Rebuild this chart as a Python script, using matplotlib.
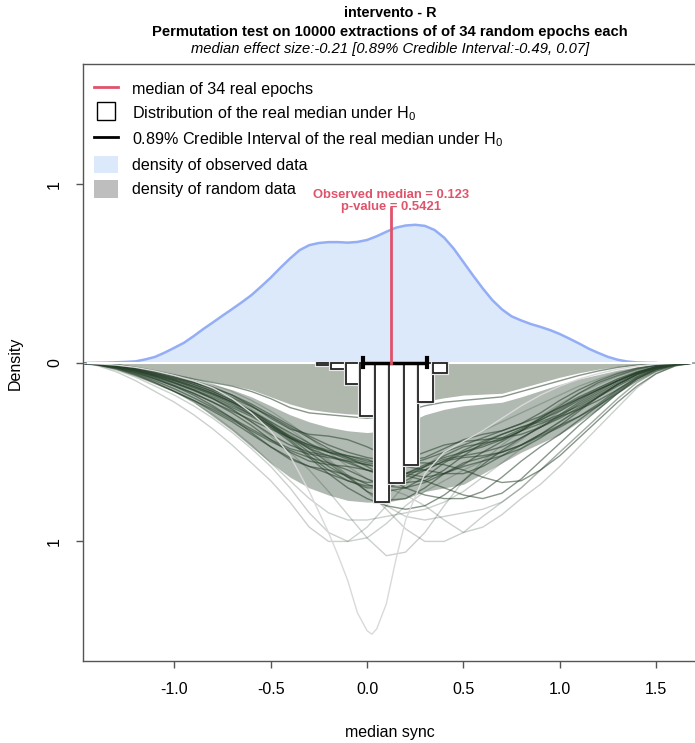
import numpy as np
import matplotlib
matplotlib.use("Agg")
import matplotlib.pyplot as plt
from matplotlib.lines import Line2D
from matplotlib.patches import Patch
import matplotlib.patheffects as pe

plt.rcParams['font.family'] = ['Liberation Sans', 'DejaVu Sans']
plt.rcParams['mathtext.fontset'] = 'custom'
plt.rcParams['mathtext.rm'] = 'Liberation Sans'
plt.rcParams['mathtext.it'] = 'Liberation Sans:italic'

# observed density (upper half)
obs_x = [-1.45, -1.40, -1.35, -1.30, -1.25, -1.20, -1.15, -1.10, -1.05, -1.00,
         -0.95, -0.90, -0.85, -0.80, -0.75, -0.70, -0.65, -0.60, -0.55, -0.50,
         -0.45, -0.40, -0.35, -0.30, -0.25, -0.20, -0.15, -0.10, -0.05, 0.00,
         0.05, 0.10, 0.15, 0.20, 0.25, 0.30, 0.35, 0.40, 0.45, 0.50,
         0.55, 0.60, 0.65, 0.70, 0.75, 0.80, 0.85, 0.90, 0.95, 1.00,
         1.05, 1.10, 1.15, 1.20, 1.25, 1.30, 1.35, 1.40, 1.45, 1.50]
obs_y = [0.0, 0.001, 0.002, 0.004, 0.006, 0.009, 0.020, 0.034, 0.058, 0.085,
         0.113, 0.150, 0.190, 0.227, 0.265, 0.302, 0.340, 0.380, 0.428, 0.478,
         0.533, 0.585, 0.632, 0.660, 0.672, 0.677, 0.677, 0.674, 0.678, 0.689,
         0.710, 0.735, 0.758, 0.770, 0.774, 0.768, 0.745, 0.702, 0.640, 0.565,
         0.490, 0.418, 0.352, 0.300, 0.261, 0.238, 0.218, 0.202, 0.184, 0.162,
         0.136, 0.109, 0.080, 0.056, 0.034, 0.018, 0.008, 0.003, 0.001, 0.0]

# random-data densities (drawn downward)
rnd_x = [-1.5, -1.4, -1.3, -1.2, -1.1, -1.0, -0.9, -0.8, -0.7, -0.6, -0.5,
         -0.4, -0.3, -0.2, -0.1, 0.0, 0.1, 0.2, 0.3, 0.4, 0.5, 0.6,
         0.7, 0.8, 0.9, 1.0, 1.1, 1.2, 1.3, 1.4, 1.5, 1.6, 1.7]
rnd_top = [0, 0.0, 0.008, 0.025, 0.045, 0.065, 0.085, 0.105, 0.125, 0.15, 0.19,
           0.23, 0.26, 0.275, 0.285, 0.29, 0.28, 0.25, 0.215, 0.195, 0.18, 0.175,
           0.17, 0.14, 0.11, 0.08, 0.055, 0.035, 0.02, 0.01, 0.004, 0.001, 0]
core_upper = [0, 0.003, 0.01, 0.028, 0.05, 0.072, 0.095, 0.12, 0.15, 0.19, 0.24,
              0.29, 0.33, 0.36, 0.38, 0.39, 0.38, 0.34, 0.29, 0.26, 0.24, 0.23,
              0.22, 0.19, 0.155, 0.12, 0.09, 0.065, 0.04, 0.022, 0.009, 0.002, 0]
core_lower = [0, 0.012, 0.035, 0.07, 0.11, 0.16, 0.22, 0.3, 0.38, 0.47, 0.56,
              0.64, 0.7, 0.74, 0.77, 0.78, 0.78, 0.76, 0.72, 0.7, 0.68, 0.62,
              0.56, 0.5, 0.45, 0.4, 0.33, 0.26, 0.17, 0.09, 0.035, 0.008, 0]
random_curves = [
    [0, 0.002, 0.01, 0.028, 0.048, 0.068, 0.09, 0.11, 0.13, 0.16, 0.2, 0.25, 0.28, 0.29, 0.3, 0.31, 0.3, 0.27, 0.24, 0.22, 0.21, 0.2, 0.19, 0.16, 0.13, 0.1, 0.07, 0.045, 0.025, 0.012, 0.005, 0.001, 0],
    [0, 0.004, 0.015, 0.035, 0.06, 0.085, 0.11, 0.14, 0.18, 0.24, 0.31, 0.37, 0.4, 0.41, 0.43, 0.47, 0.52, 0.55, 0.53, 0.48, 0.43, 0.4, 0.38, 0.34, 0.28, 0.21, 0.15, 0.1, 0.06, 0.03, 0.012, 0.003, 0],
    [0, 0.006, 0.02, 0.045, 0.075, 0.11, 0.15, 0.2, 0.26, 0.33, 0.4, 0.46, 0.5, 0.52, 0.55, 0.6, 0.63, 0.62, 0.58, 0.52, 0.47, 0.45, 0.43, 0.38, 0.31, 0.24, 0.17, 0.11, 0.07, 0.035, 0.014, 0.004, 0],
    [0, 0.008, 0.025, 0.055, 0.09, 0.13, 0.18, 0.24, 0.31, 0.39, 0.47, 0.54, 0.58, 0.6, 0.63, 0.68, 0.72, 0.7, 0.64, 0.56, 0.5, 0.46, 0.42, 0.37, 0.31, 0.25, 0.19, 0.14, 0.09, 0.05, 0.02, 0.005, 0],
    [0, 0.012, 0.04, 0.08, 0.13, 0.18, 0.24, 0.31, 0.39, 0.48, 0.58, 0.7, 0.84, 0.95, 1.0, 0.98, 0.9, 0.8, 0.72, 0.66, 0.6, 0.55, 0.5, 0.43, 0.35, 0.27, 0.2, 0.14, 0.09, 0.05, 0.02, 0.005, 0],
    [0, 0.005, 0.018, 0.04, 0.07, 0.1, 0.14, 0.18, 0.23, 0.29, 0.36, 0.44, 0.53, 0.62, 0.7, 0.76, 0.8, 0.82, 0.8, 0.74, 0.66, 0.57, 0.49, 0.42, 0.36, 0.3, 0.23, 0.17, 0.11, 0.06, 0.025, 0.006, 0],
    [0, 0.003, 0.012, 0.03, 0.055, 0.08, 0.11, 0.15, 0.2, 0.26, 0.33, 0.4, 0.47, 0.55, 0.63, 0.72, 0.82, 0.93, 1.0, 1.0, 0.95, 0.86, 0.78, 0.7, 0.6, 0.5, 0.4, 0.3, 0.2, 0.11, 0.05, 0.015, 0],
    [0, 0.01, 0.03, 0.065, 0.11, 0.16, 0.21, 0.27, 0.33, 0.4, 0.47, 0.53, 0.58, 0.62, 0.66, 0.7, 0.7, 0.66, 0.6, 0.55, 0.53, 0.52, 0.5, 0.46, 0.4, 0.33, 0.26, 0.19, 0.12, 0.065, 0.028, 0.007, 0],
    [0, 0.004, 0.015, 0.035, 0.06, 0.09, 0.12, 0.16, 0.21, 0.27, 0.34, 0.41, 0.48, 0.56, 0.64, 0.72, 0.77, 0.76, 0.7, 0.62, 0.56, 0.53, 0.5, 0.46, 0.41, 0.36, 0.3, 0.23, 0.15, 0.08, 0.033, 0.008, 0],
    [0, 0.015, 0.05, 0.1, 0.16, 0.22, 0.29, 0.37, 0.46, 0.56, 0.66, 0.78, 0.92, 1.0, 1.0, 0.92, 0.8, 0.68, 0.58, 0.5, 0.44, 0.38, 0.33, 0.28, 0.23, 0.18, 0.13, 0.09, 0.055, 0.03, 0.012, 0.003, 0],
    [0, 0.007, 0.022, 0.048, 0.08, 0.115, 0.155, 0.2, 0.25, 0.3, 0.36, 0.42, 0.47, 0.5, 0.53, 0.58, 0.64, 0.7, 0.74, 0.76, 0.76, 0.72, 0.64, 0.55, 0.47, 0.4, 0.32, 0.24, 0.16, 0.09, 0.04, 0.01, 0],
    [0, 0.005, 0.017, 0.038, 0.065, 0.095, 0.13, 0.17, 0.22, 0.28, 0.35, 0.42, 0.48, 0.52, 0.56, 0.6, 0.62, 0.63, 0.66, 0.7, 0.74, 0.76, 0.73, 0.65, 0.55, 0.45, 0.35, 0.26, 0.17, 0.09, 0.037, 0.009, 0],
    [0, 0.006, 0.02, 0.045, 0.075, 0.11, 0.15, 0.2, 0.26, 0.33, 0.41, 0.5, 0.6, 0.72, 0.85, 0.98, 1.08, 1.06, 0.95, 0.8, 0.66, 0.55, 0.46, 0.38, 0.3, 0.23, 0.17, 0.12, 0.075, 0.04, 0.016, 0.004, 0],
    [0, 0.003, 0.01, 0.025, 0.045, 0.07, 0.1, 0.135, 0.18, 0.23, 0.29, 0.35, 0.41, 0.46, 0.5, 0.53, 0.55, 0.56, 0.56, 0.57, 0.6, 0.64, 0.67, 0.66, 0.6, 0.52, 0.42, 0.32, 0.22, 0.13, 0.06, 0.016, 0],
    [0, 0.003, 0.01, 0.024, 0.043, 0.065, 0.09, 0.12, 0.16, 0.21, 0.27, 0.34, 0.42, 0.5, 0.58, 0.65, 0.7, 0.74, 0.8, 0.88, 0.95, 0.92, 0.85, 0.76, 0.68, 0.58, 0.47, 0.36, 0.25, 0.14, 0.06, 0.016, 0],
    [0, 0.009, 0.028, 0.06, 0.1, 0.145, 0.195, 0.25, 0.31, 0.37, 0.43, 0.48, 0.51, 0.53, 0.55, 0.57, 0.6, 0.62, 0.6, 0.55, 0.49, 0.44, 0.4, 0.36, 0.32, 0.27, 0.21, 0.15, 0.1, 0.055, 0.023, 0.006, 0],
    [0, 0.006, 0.02, 0.042, 0.07, 0.1, 0.135, 0.175, 0.22, 0.27, 0.33, 0.39, 0.45, 0.5, 0.54, 0.57, 0.58, 0.57, 0.54, 0.5, 0.46, 0.42, 0.38, 0.34, 0.3, 0.25, 0.2, 0.15, 0.1, 0.055, 0.022, 0.005, 0],
    [0, 0.008, 0.026, 0.055, 0.09, 0.13, 0.17, 0.22, 0.28, 0.35, 0.43, 0.5, 0.55, 0.57, 0.58, 0.6, 0.64, 0.67, 0.66, 0.6, 0.52, 0.45, 0.4, 0.36, 0.33, 0.29, 0.24, 0.18, 0.12, 0.065, 0.027, 0.007, 0],
    [0, 0.004, 0.014, 0.032, 0.056, 0.085, 0.12, 0.16, 0.21, 0.27, 0.34, 0.42, 0.5, 0.58, 0.64, 0.67, 0.66, 0.62, 0.57, 0.53, 0.5, 0.47, 0.43, 0.38, 0.32, 0.26, 0.2, 0.15, 0.1, 0.055, 0.022, 0.005, 0],
    [0, 0.011, 0.035, 0.072, 0.115, 0.16, 0.21, 0.26, 0.32, 0.38, 0.44, 0.49, 0.53, 0.56, 0.6, 0.65, 0.69, 0.7, 0.67, 0.62, 0.58, 0.55, 0.52, 0.48, 0.42, 0.35, 0.27, 0.19, 0.12, 0.065, 0.027, 0.007, 0],
    [0, 0.003, 0.011, 0.027, 0.05, 0.078, 0.11, 0.15, 0.195, 0.245, 0.3, 0.36, 0.42, 0.48, 0.53, 0.56, 0.57, 0.58, 0.6, 0.62, 0.62, 0.58, 0.52, 0.46, 0.4, 0.35, 0.3, 0.24, 0.17, 0.1, 0.045, 0.012, 0],
    [0, 0.007, 0.023, 0.05, 0.085, 0.125, 0.17, 0.22, 0.27, 0.32, 0.37, 0.42, 0.46, 0.49, 0.52, 0.55, 0.56, 0.54, 0.5, 0.46, 0.44, 0.43, 0.42, 0.4, 0.36, 0.31, 0.25, 0.19, 0.13, 0.075, 0.032, 0.008, 0],
    [0, 0.009, 0.03, 0.065, 0.11, 0.16, 0.22, 0.29, 0.37, 0.46, 0.56, 0.66, 0.76, 0.84, 0.88, 0.88, 0.86, 0.84, 0.82, 0.78, 0.72, 0.64, 0.56, 0.48, 0.4, 0.33, 0.26, 0.19, 0.12, 0.065, 0.027, 0.007, 0],
    [0, 0.004, 0.013, 0.03, 0.052, 0.078, 0.11, 0.145, 0.19, 0.24, 0.3, 0.37, 0.45, 0.54, 0.63, 0.72, 0.8, 0.86, 0.88, 0.86, 0.84, 0.82, 0.78, 0.7, 0.6, 0.5, 0.4, 0.3, 0.2, 0.11, 0.047, 0.012, 0],
    [0, 0.005, 0.017, 0.038, 0.064, 0.095, 0.13, 0.17, 0.22, 0.28, 0.35, 0.43, 0.52, 0.6, 0.66, 0.69, 0.68, 0.64, 0.58, 0.54, 0.52, 0.5, 0.47, 0.42, 0.36, 0.29, 0.22, 0.16, 0.1, 0.055, 0.022, 0.005, 0],
    [0, 0.006, 0.02, 0.044, 0.074, 0.11, 0.15, 0.19, 0.24, 0.29, 0.35, 0.41, 0.46, 0.5, 0.52, 0.54, 0.58, 0.62, 0.64, 0.62, 0.57, 0.5, 0.44, 0.38, 0.34, 0.3, 0.26, 0.21, 0.15, 0.085, 0.035, 0.009, 0],
]
# single very peaked random density
peak_x = [-1.5, -1.4, -1.3, -1.2, -1.1, -1.0, -0.9, -0.8, -0.7, -0.6, -0.5, -0.4,
          -0.3, -0.2, -0.15, -0.1, -0.05, 0.0, 0.025, 0.05, 0.1, 0.15, 0.2, 0.3,
          0.4, 0.5, 0.6, 0.7, 0.8, 0.9, 1.0, 1.1, 1.2, 1.3, 1.4, 1.5, 1.6, 1.7]
peak_y = [0, 0.005, 0.012, 0.025, 0.045, 0.07, 0.1, 0.14, 0.2, 0.28, 0.38, 0.52,
          0.72, 0.95, 1.08, 1.22, 1.4, 1.5, 1.52, 1.49, 1.35, 1.1, 0.88, 0.62,
          0.5, 0.44, 0.38, 0.31, 0.24, 0.18, 0.13, 0.09, 0.06, 0.035, 0.018, 0.007, 0.002, 0]

# distribution of the real median under H0
hist_edges = [-0.26, -0.185, -0.11, -0.035, 0.04, 0.115, 0.19, 0.265, 0.34, 0.415]
hist_heights = [0.013, 0.032, 0.12, 0.297, 0.78, 0.674, 0.571, 0.217, 0.058]

ci_low, ci_high = -0.022, 0.311
obs_median = 0.123
p_value = 0.5421
n_epochs = 34

fig = plt.figure(figsize=(6.95, 7.43), dpi=100)
ax = fig.add_axes([83 / 695, 1 - 661 / 743, 614 / 695, 597 / 743])
ax.set_xlim(-1.474, 1.712)
ax.set_ylim(-1.67, 1.675)

green = '#26402a'
neg = lambda v: -np.asarray(v)

# random densities
ax.fill_between(rnd_x, 0, neg(rnd_top), color='#b0b8ae', lw=0, zorder=1)
ax.fill_between(rnd_x, neg(core_upper), neg(core_lower), color=green, alpha=0.36, lw=0, zorder=1)
for c in random_curves:
    a = 0.24 if max(c) > 0.85 else 0.55
    ax.plot(rnd_x, neg(c), color=green, alpha=a, lw=1.0, zorder=2)
ax.plot(peak_x, neg(peak_y), color='#d9d9d9', lw=1.0, zorder=2)

# observed density
ax.fill_between(obs_x, 0, obs_y, color='#dce9fb', lw=0, zorder=3)
ax.plot(obs_x, obs_y, color='#93aef5', lw=1.8, zorder=4)
ax.plot([-1.45, 1.68], [0, 0], color='white', lw=1.5, zorder=4)

# histogram under H0
widths = np.diff(hist_edges)
bars = ax.bar(hist_edges[:-1], neg(hist_heights), width=widths, align='edge',
              color='white', edgecolor='#222222', lw=1.3, zorder=5)
for b in bars:
    b.set_path_effects([pe.withStroke(linewidth=3, foreground='#e8e8e8')])

# credible interval
ax.plot([ci_low, ci_high], [0, 0], color='black', lw=2.5, zorder=6, solid_capstyle='butt')
ax.plot([ci_low, ci_low], [-0.025, 0.025], color='black', lw=3, zorder=6)
ax.plot([ci_high, ci_high], [-0.025, 0.025], color='black', lw=3, zorder=6)

# observed median
red = '#DF536B'
ax.plot([obs_median, obs_median], [0, 0.868], color=red, lw=2, zorder=6)
ax.text(obs_median, 0.94, f'Observed median = {obs_median}', color=red,
        fontsize=9.4, fontweight='bold', ha='center', va='center')
ax.text(obs_median, 0.875, f'p-value = {p_value}', color=red,
        fontsize=9.4, fontweight='bold', ha='center', va='center')

# axes styling
for s in ax.spines.values():
    s.set_color('#555555')
    s.set_linewidth(1)
ax.set_xticks([-1.0, -0.5, 0.0, 0.5, 1.0, 1.5])
ax.set_xticklabels(['-1.0', '-0.5', '0.0', '0.5', '1.0', '1.5'])
ax.set_yticks([-1, 0, 1])
ax.set_yticklabels(['1', '0', '1'], rotation=90, va='center')
ax.tick_params(axis='both', length=5, width=1, color='#555555', labelsize=11.5, pad=10)

fig.text(15 / 695, 1 - 363 / 743, 'Density', rotation=90, ha='center', va='center', fontsize=11.5)
fig.text(390 / 695, 1 - 732 / 743, 'median sync', ha='center', va='center', fontsize=11.5)

# titles
fig.text(390 / 695, 1 - 13 / 743, 'intervento - R', ha='center', va='center',
         fontsize=10.4, fontweight='bold')
fig.text(390 / 695, 1 - 32 / 743,
         'Permutation test on 10000 extractions of of 34 random epochs each',
         ha='center', va='center', fontsize=10.6, fontweight='bold')
fig.text(390 / 695, 1 - 49 / 743,
         'median effect size:-0.21 [0.89% Credible Interval:-0.49, 0.07]',
         ha='center', va='center', fontsize=10.6, style='italic')

# legend
handles = [
    Line2D([], [], color=red, lw=2),
    Line2D([], [], marker='s', ls='none', markersize=13, markerfacecolor='white',
           markeredgecolor='black', markeredgewidth=1),
    Line2D([], [], color='black', lw=2),
    Patch(facecolor='#dce9fb', edgecolor='none'),
    Patch(facecolor='#bebebe', edgecolor='none'),
]
labels = [
    f'median of {n_epochs} real epochs',
    'Distribution of the real median under H$_0$',
    '0.89% Credible Interval of the real median under H$_0$',
    'density of observed data',
    'density of random data',
]
ax.legend(handles, labels, loc='upper left', bbox_to_anchor=(0.0, 0.993), frameon=False,
          fontsize=11.6, handlelength=1.5, handleheight=1.3, labelspacing=0.43,
          handletextpad=0.85, borderaxespad=0.3)

fig.savefig('out.png', dpi=100)
